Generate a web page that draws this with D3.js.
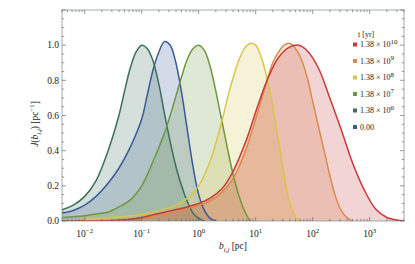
<!DOCTYPE html>
<html>
<head>
<meta charset="utf-8">
<script src="https://cdn.jsdelivr.net/npm/d3@7"></script>
<style>
  body { margin: 0; background: #fff; }
  text { font-family: "Liberation Serif", "DejaVu Serif", serif; fill: #222; }
</style>
</head>
<body>
<svg id="chart" width="415" height="264"></svg>
<script>
// series, log10(b) positions and J values
var names = ["0.00", "1.38e6", "1.38e7", "1.38e8", "1.38e9", "1.38e10"];
var colors = ["#3d5a98", "#3f6e5e", "#6e983c", "#d8c64a", "#dc8a4c", "#c8393a"];

var logB0 = [-2.4, -2.2, -2.0, -1.8, -1.6, -1.4, -1.2, -1.0, -0.9, -0.8, -0.7, -0.6, -0.5, -0.4, -0.3, -0.2, -0.1, 0.0, 0.1, 0.2, 0.3];
var val0  = [0.045, 0.06, 0.09, 0.14, 0.21, 0.30, 0.42, 0.58, 0.72, 0.86, 0.96, 1.02, 1.0, 0.90, 0.73, 0.52, 0.31, 0.15, 0.06, 0.015, 0];

var logB6 = [-2.4, -2.2, -2.0, -1.8, -1.6, -1.4, -1.3, -1.2, -1.1, -1.0, -0.9, -0.8, -0.7, -0.6, -0.5, -0.4, -0.3, -0.2, -0.1, 0.0, 0.1];
var val6  = [0.063, 0.09, 0.14, 0.23, 0.39, 0.60, 0.74, 0.87, 0.96, 1.0, 0.98, 0.91, 0.78, 0.61, 0.45, 0.31, 0.20, 0.11, 0.045, 0.015, 0];

var logB7 = [-2.4, -2.0, -1.8, -1.6, -1.4, -1.2, -1.0, -0.8, -0.6, -0.5, -0.4, -0.3, -0.2, -0.1, 0.0, 0.1, 0.2, 0.3, 0.4, 0.5, 0.6, 0.7, 0.8, 0.9];
var val7  = [0.02, 0.03, 0.04, 0.05, 0.08, 0.12, 0.20, 0.34, 0.50, 0.60, 0.71, 0.82, 0.92, 0.98, 1.0, 0.97, 0.88, 0.74, 0.58, 0.42, 0.27, 0.15, 0.06, 0];

var logB8 = [-2.4, -2.0, -1.6, -1.2, -0.8, -0.4, -0.2, 0.0, 0.2, 0.4, 0.5, 0.6, 0.7, 0.8, 0.9, 1.0, 1.1, 1.2, 1.3, 1.4, 1.5, 1.6, 1.7, 1.8];
var val8  = [0.005, 0.01, 0.018, 0.03, 0.05, 0.09, 0.13, 0.20, 0.34, 0.56, 0.69, 0.81, 0.91, 0.98, 1.01, 1.0, 0.93, 0.81, 0.65, 0.46, 0.26, 0.10, 0.025, 0];

var logB9 = [-2.4, -1.2, -0.8, -0.4, 0.0, 0.2, 0.4, 0.6, 0.8, 1.0, 1.1, 1.2, 1.3, 1.4, 1.5, 1.6, 1.7, 1.8, 1.9, 2.0, 2.1, 2.2, 2.3, 2.4, 2.5, 2.6, 2.7];
var val9  = [0, 0.008, 0.025, 0.055, 0.09, 0.115, 0.16, 0.24, 0.38, 0.58, 0.69, 0.80, 0.90, 0.96, 1.0, 1.01, 0.98, 0.92, 0.82, 0.68, 0.54, 0.40, 0.26, 0.14, 0.06, 0.02, 0];

var logB10 = [-2.4, -1.6, -1.2, -1.0, -0.8, -0.6, -0.4, -0.2, 0.0, 0.2, 0.4, 0.6, 0.8, 0.9, 1.0, 1.2, 1.4, 1.6, 1.75, 1.9, 2.1, 2.3, 2.5, 2.7, 2.9, 3.1, 3.3, 3.5, 3.6];
var val10  = [0, 0.002, 0.01, 0.02, 0.035, 0.05, 0.065, 0.08, 0.10, 0.13, 0.18, 0.28, 0.43, 0.52, 0.62, 0.80, 0.93, 0.99, 1.0, 0.97, 0.87, 0.70, 0.52, 0.33, 0.18, 0.07, 0.02, 0.004, 0];

var legendBase = ["1.38", "1.38", "1.38", "1.38", "1.38", "0.00"];
var legendExp = ["10", "9", "8", "7", "6", null];
var yTickLabels = ["0.0", "0.2", "0.4", "0.6", "0.8", "1.0"];

var series = [
  { name: names[0], color: colors[0], xs: logB0, ys: val0 },
  { name: names[1], color: colors[1], xs: logB6, ys: val6 },
  { name: names[2], color: colors[2], xs: logB7, ys: val7 },
  { name: names[3], color: colors[3], xs: logB8, ys: val8 },
  { name: names[4], color: colors[4], xs: logB9, ys: val9 },
  { name: names[5], color: colors[5], xs: logB10, ys: val10 }
];

var svg = d3.select("#chart");
var pLeft = 62, pRight = 404, pTop = 10, pBottom = 221;

var x = d3.scaleLog().domain([0.004, 4000]).range([pLeft, pRight]);
var y = d3.scaleLinear().domain([0, 1.2]).range([pBottom, pTop]);

svg.append("defs").append("clipPath").attr("id", "clip")
  .append("rect").attr("x", pLeft).attr("y", pTop).attr("width", pRight - pLeft).attr("height", pBottom - pTop);

var plot = svg.append("g").attr("clip-path", "url(#clip)");

var area = d3.area()
  .x(function(d) { return x(Math.pow(10, d[0])); })
  .y0(y(0))
  .y1(function(d) { return y(d[1]); })
  .curve(d3.curveCatmullRom.alpha(0.5));
var line = d3.line()
  .x(function(d) { return x(Math.pow(10, d[0])); })
  .y(function(d) { return y(d[1]); })
  .curve(d3.curveCatmullRom.alpha(0.5));

series.forEach(function(s) {
  var pts = s.xs.map(function(v, i) { return [v, s.ys[i]]; });
  plot.append("path").datum(pts)
    .attr("d", area)
    .attr("fill", s.color)
    .attr("fill-opacity", 0.22);
});
series.forEach(function(s) {
  var pts = s.xs.map(function(v, i) { return [v, s.ys[i]]; });
  plot.append("path").datum(pts)
    .attr("d", line)
    .attr("fill", "none")
    .attr("stroke", s.color)
    .attr("stroke-width", 1.5);
});

// frame
var frameColor = "#8a9a98";
svg.append("rect")
  .attr("x", pLeft).attr("y", pTop)
  .attr("width", pRight - pLeft).attr("height", pBottom - pTop)
  .attr("fill", "none").attr("stroke", frameColor).attr("stroke-width", 0.8);

var ticks = svg.append("g").attr("stroke", "#555").attr("stroke-width", 0.6);

// x ticks, major on decades
x.ticks().forEach(function(t) {
  var lg = Math.log10(t);
  var major = Math.abs(lg - Math.round(lg)) < 1e-6;
  var len = major ? 4 : 2.2;
  var px = x(t);
  ticks.append("line").attr("x1", px).attr("x2", px).attr("y1", pBottom).attr("y2", pBottom - len);
  ticks.append("line").attr("x1", px).attr("x2", px).attr("y1", pTop).attr("y2", pTop + len);
  if (major) {
    var lbl = svg.append("text").attr("x", px).attr("y", pBottom + 16)
      .attr("text-anchor", "middle").attr("font-size", 9.5);
    lbl.append("tspan").text("10");
    lbl.append("tspan").attr("dy", -4).attr("font-size", 6.8).text(Math.round(lg) < 0 ? "\u2212" + (-Math.round(lg)) : Math.round(lg));
  }
});

// y ticks
d3.range(0, 1.2001, 0.05).forEach(function(t, i) {
  var major = i % 4 === 0;
  var len = major ? 4 : 2.2;
  var py = y(t);
  ticks.append("line").attr("x1", pLeft).attr("x2", pLeft + len).attr("y1", py).attr("y2", py);
  ticks.append("line").attr("x1", pRight).attr("x2", pRight - len).attr("y1", py).attr("y2", py);
});
yTickLabels.forEach(function(l) {
  svg.append("text").attr("x", pLeft - 3).attr("y", y(+l) + 3.2)
    .attr("text-anchor", "end").attr("font-size", 9.5).text(l);
});

// axis titles
var xl = svg.append("text").attr("x", 233).attr("y", 249).attr("text-anchor", "middle").attr("font-size", 9.5);
xl.append("tspan").attr("font-style", "italic").text("b");
xl.append("tspan").attr("font-style", "italic").attr("font-size", 6.8).attr("dy", 2.5).text("i,j");
xl.append("tspan").attr("dy", -2.5).text(" [pc]");

var yl = svg.append("text").attr("transform", "translate(38,124) rotate(-90)")
  .attr("text-anchor", "middle").attr("font-size", 9.5);
yl.append("tspan").attr("font-style", "italic").text("J");
yl.append("tspan").text("(");
yl.append("tspan").attr("font-style", "italic").text("b");
yl.append("tspan").attr("font-style", "italic").attr("font-size", 6.8).attr("dy", 2.5).text("i,j");
yl.append("tspan").attr("dy", -2.5).text(") [pc");
yl.append("tspan").attr("font-size", 6.8).attr("dy", -4).text("\u22121");
yl.append("tspan").attr("dy", 4).text("]");

// legend
var leg = svg.append("g");
leg.append("text").attr("x", 358).attr("y", 37).attr("font-size", 8).text("t [yr]");
var legendColors = [colors[5], colors[4], colors[3], colors[2], colors[1], colors[0]];
legendBase.forEach(function(b, i) {
  var yy = 47 + i * 16.5;
  leg.append("rect").attr("x", 353).attr("y", yy - 4.5).attr("width", 4).attr("height", 4).attr("fill", legendColors[i]);
  var t = leg.append("text").attr("x", 360).attr("y", yy).attr("font-size", 8);
  if (legendExp[i]) {
    t.append("tspan").text(b + " \u00d7 10");
    t.append("tspan").attr("dy", -3.5).attr("font-size", 7).text(legendExp[i]);
  } else {
    t.text(b);
  }
});
</script>
</body>
</html>
